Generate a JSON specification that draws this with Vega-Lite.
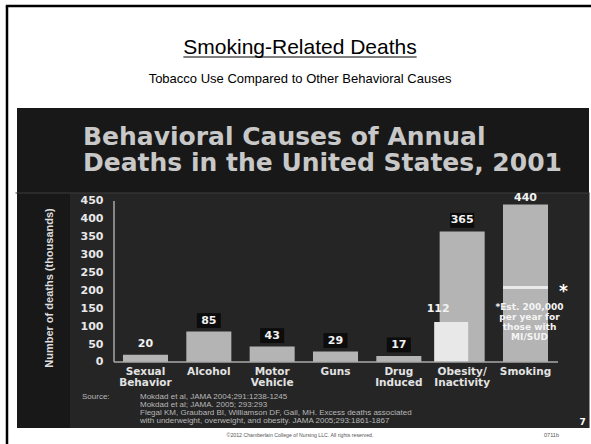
{
  "$schema": "https://vega.github.io/schema/vega-lite/v6.json",
  "width": 572,
  "height": 320,
  "autosize": {"type": "none"},
  "padding": {"left": 17, "top": 108, "right": 2, "bottom": 16},
  "background": "white",
  "view": {"fill": "#181818", "stroke": null},
  "config": {"font": "Liberation Sans"},
  "resolve": {"axis": {"x": "independent", "y": "independent"}},
  "datasets": {
    "deaths": [
      {"cause": "Sexual Behavior", "deaths": 20},
      {"cause": "Alcohol", "deaths": 85},
      {"cause": "Motor Vehicle", "deaths": 43},
      {"cause": "Guns", "deaths": 29},
      {"cause": "Drug Induced", "deaths": 17},
      {"cause": "Obesity/ Inactivity", "deaths": 365},
      {"cause": "Smoking", "deaths": 440}
    ],
    "obesityAlt": [{"cause": "Obesity/ Inactivity", "deaths": 112}],
    "smokingMI": [{"cause": "Smoking", "deaths": 208}],
    "note": [{"n": 1}]
  },
  "layer": [
    {
      "data": {"name": "note"},
      "mark": {"type": "rect", "color": "#252525", "xOffset": -75.5, "x2Offset": 64, "clip": false},
      "encoding": {
        "x": {"datum": "Sexual Behavior", "type": "nominal", "axis": null},
        "x2": {"datum": "Smoking"},
        "y": {"datum": -184.5, "type": "quantitative", "axis": null},
        "y2": {"datum": 472.3}
      }
    },
    {
      "data": {"name": "note"},
      "mark": {"type": "rule", "color": "#3c3c3c", "strokeWidth": 1, "xOffset": -130, "x2Offset": 64, "clip": false},
      "encoding": {
        "x": {"datum": "Sexual Behavior", "type": "nominal", "axis": null},
        "x2": {"datum": "Smoking"},
        "y": {"datum": 472.3, "type": "quantitative", "axis": null}
      }
    },
    {
      "data": {"name": "deaths"},
      "mark": {"type": "bar", "color": "#b4b4b4"},
      "encoding": {
        "x": {
          "field": "cause",
          "type": "nominal",
          "sort": null,
          "scale": {
            "domain": ["Sexual Behavior", "Alcohol", "Motor Vehicle", "Guns", "Drug Induced", "Obesity/ Inactivity", "Smoking"],
            "range": [96.8, 540.2],
            "paddingInner": 0.289,
            "paddingOuter": 0.145,
            "align": 0.5
          },
          "axis": {
            "orient": "bottom",
            "offset": -64,
            "zindex": 2,
            "domain": false,
            "ticks": false,
            "grid": false,
            "labelAngle": 0,
            "labelPadding": 2,
            "labelExpr": "split(datum.label, ' ')",
            "labelFont": "DejaVu Sans",
            "labelFontWeight": "bold",
            "labelFontSize": 10.5,
            "labelLineHeight": 11,
            "labelColor": "#e2e2e2",
            "title": null
          }
        },
        "y": {
          "field": "deaths",
          "type": "quantitative",
          "scale": {"domain": [-184.5, 709.9], "nice": false, "zero": false},
          "axis": {
            "orient": "left",
            "values": [0, 50, 100, 150, 200, 250, 300, 350, 400, 450],
            "offset": -88,
            "zindex": 2,
            "domain": false,
            "ticks": false,
            "grid": false,
            "labelPadding": 2,
            "labelFont": "DejaVu Sans",
            "labelFontWeight": "bold",
            "labelFontSize": 11,
            "labelColor": "#e8e8e8",
            "title": "Number of deaths (thousands)",
            "titleFont": "Liberation Sans",
            "titleFontWeight": "bold",
            "titleFontSize": 11,
            "titleColor": "#dddddd",
            "titleX": -56,
            "titleY": 179.5,
            "titleAlign": "center",
            "titleBaseline": "middle",
            "titleAngle": -90
          }
        },
        "y2": {"datum": 0}
      }
    },
    {
      "data": {"name": "obesityAlt"},
      "mark": {"type": "bar", "color": "#e8e8e8", "width": 34, "xOffset": -11},
      "encoding": {
        "x": {"field": "cause", "type": "nominal", "axis": null},
        "y": {"field": "deaths", "type": "quantitative", "axis": null},
        "y2": {"datum": 0}
      }
    },
    {
      "data": {"name": "smokingMI"},
      "mark": {"type": "tick", "color": "#ffffff", "size": 45, "thickness": 3},
      "encoding": {
        "x": {"field": "cause", "type": "nominal", "axis": null},
        "y": {"field": "deaths", "type": "quantitative", "axis": null}
      }
    },
    {
      "data": {"name": "note"},
      "mark": {"type": "rule", "color": "#a8a8a8", "strokeWidth": 1.5, "xOffset": -31.5},
      "encoding": {
        "x": {"datum": "Sexual Behavior", "type": "nominal", "axis": null},
        "y": {"datum": 0, "type": "quantitative", "axis": null},
        "y2": {"datum": 450}
      }
    },
    {
      "data": {"name": "note"},
      "mark": {"type": "rule", "color": "#a8a8a8", "strokeWidth": 1.5, "xOffset": -31.5, "x2Offset": 32.5},
      "encoding": {
        "x": {"datum": "Sexual Behavior", "type": "nominal", "axis": null},
        "x2": {"datum": "Smoking"},
        "y": {"datum": 0, "type": "quantitative", "axis": null}
      }
    },
    {
      "data": {"name": "deaths"},
      "transform": [{"filter": "datum.cause != 'Sexual Behavior' && datum.cause != 'Smoking'"}],
      "mark": {"type": "point", "shape": "M-1,-0.62H1V0.62H-1Z", "filled": true, "color": "#0c0c0c", "opacity": 1, "size": 576, "yOffset": -11},
      "encoding": {
        "x": {"field": "cause", "type": "nominal", "axis": null},
        "y": {"field": "deaths", "type": "quantitative", "axis": null}
      }
    },
    {
      "data": {"name": "deaths"},
      "transform": [{"filter": "datum.cause != 'Smoking'"}],
      "mark": {"type": "text", "dy": -11, "baseline": "middle", "font": "DejaVu Sans", "fontWeight": "bold", "fontSize": 11, "color": "#f2f2f2"},
      "encoding": {
        "x": {"field": "cause", "type": "nominal", "axis": null},
        "y": {"field": "deaths", "type": "quantitative", "axis": null},
        "text": {"field": "deaths", "type": "quantitative"}
      }
    },
    {
      "data": {"name": "deaths"},
      "transform": [{"filter": "datum.cause == 'Smoking'"}],
      "mark": {"type": "text", "dy": -7, "baseline": "middle", "font": "DejaVu Sans", "fontWeight": "bold", "fontSize": 11, "color": "#f2f2f2", "clip": false},
      "encoding": {
        "x": {"field": "cause", "type": "nominal", "axis": null},
        "y": {"field": "deaths", "type": "quantitative", "axis": null},
        "text": {"field": "deaths", "type": "quantitative"}
      }
    },
    {
      "data": {"name": "obesityAlt"},
      "mark": {"type": "text", "dy": -13, "dx": -24, "baseline": "middle", "font": "DejaVu Sans", "fontWeight": "bold", "fontSize": 11, "color": "#f2f2f2"},
      "encoding": {
        "x": {"field": "cause", "type": "nominal", "axis": null},
        "y": {"field": "deaths", "type": "quantitative", "axis": null},
        "text": {"field": "deaths", "type": "quantitative"}
      }
    },
    {
      "data": {"name": "note"},
      "mark": {"type": "text", "text": "*", "dx": 38, "dy": 4, "baseline": "middle", "font": "DejaVu Sans", "fontWeight": "bold", "fontSize": 17, "color": "#ffffff"},
      "encoding": {
        "x": {"datum": "Smoking", "type": "nominal", "axis": null},
        "y": {"datum": 208, "type": "quantitative", "axis": null}
      }
    },
    {
      "data": {"name": "note"},
      "mark": {"type": "text", "text": ["*Est. 200,000", "per year for", "those with", "MI/SUD"], "dx": 4, "baseline": "top", "lineHeight": 10, "font": "DejaVu Sans", "fontWeight": "bold", "fontSize": 9, "color": "#f4f4f4"},
      "encoding": {
        "x": {"datum": "Smoking", "type": "nominal", "axis": null},
        "y": {"datum": 165, "type": "quantitative", "axis": null}
      }
    },
    {
      "data": {"name": "note"},
      "mark": {"type": "text", "text": ["Behavioral Causes of Annual", "Deaths in the United States, 2001"], "align": "left", "dx": -62.5, "baseline": "alphabetic", "lineHeight": 26, "font": "DejaVu Sans", "fontWeight": "bold", "fontSize": 25, "color": "#c8c8c8", "clip": false},
      "encoding": {
        "x": {"datum": "Sexual Behavior", "type": "nominal", "axis": null},
        "y": {"datum": 606.5, "type": "quantitative", "axis": null}
      }
    },
    {
      "data": {"name": "note"},
      "mark": {"type": "text", "text": "Source:", "align": "left", "dx": -63.5, "baseline": "top", "font": "Liberation Sans", "fontSize": 8, "color": "#b8b8b8"},
      "encoding": {
        "x": {"datum": "Sexual Behavior", "type": "nominal", "axis": null},
        "y": {"datum": -86.7, "type": "quantitative", "axis": null}
      }
    },
    {
      "data": {"name": "note"},
      "mark": {"type": "text", "text": ["Mokdad et al,  JAMA 2004;291:1238-1245", "Mokdad et al;   JAMA. 2005; 293:293", "Flegal KM, Graubard BI, Williamson DF, Gail, MH.  Excess deaths associated", "with underweight, overweight, and obesity.  JAMA 2005;293:1861-1867"], "align": "left", "dx": -5.5, "baseline": "top", "lineHeight": 8, "font": "Liberation Sans", "fontSize": 8, "color": "#b8b8b8"},
      "encoding": {
        "x": {"datum": "Sexual Behavior", "type": "nominal", "axis": null},
        "y": {"datum": -86.7, "type": "quantitative", "axis": null}
      }
    },
    {
      "data": {"name": "note"},
      "mark": {"type": "text", "text": "7", "dx": 57, "baseline": "middle", "font": "DejaVu Sans", "fontWeight": "bold", "fontSize": 9, "color": "#ffffff"},
      "encoding": {
        "x": {"datum": "Smoking", "type": "nominal", "axis": null},
        "y": {"datum": -167.7, "type": "quantitative", "axis": null}
      }
    },
    {
      "data": {"name": "note"},
      "mark": {"type": "text", "text": "0711b", "dx": 26, "baseline": "middle", "font": "Liberation Sans", "fontSize": 5.5, "color": "#555555", "clip": false},
      "encoding": {
        "x": {"datum": "Smoking", "type": "nominal", "axis": null},
        "y": {"datum": -204, "type": "quantitative", "axis": null}
      }
    },
    {
      "data": {"name": "note"},
      "mark": {"type": "text", "text": "©2012 Chamberlain College of Nursing LLC. All rights reserved.", "dx": -35.5, "baseline": "middle", "font": "Liberation Sans", "fontSize": 5.2, "color": "#555555", "clip": false},
      "encoding": {
        "x": {"datum": "Guns", "type": "nominal", "axis": null},
        "y": {"datum": -204, "type": "quantitative", "axis": null}
      }
    },
    {
      "data": {"name": "note"},
      "mark": {"type": "text", "text": "Smoking-Related Deaths", "dx": -35.5, "baseline": "alphabetic", "font": "Liberation Sans", "fontSize": 21, "color": "#000000", "clip": false},
      "encoding": {
        "x": {"datum": "Guns", "type": "nominal", "axis": null},
        "y": {"datum": 860.9, "type": "quantitative", "axis": null}
      }
    },
    {
      "data": {"name": "note"},
      "mark": {"type": "text", "text": "Tobacco Use Compared to Other Behavioral Causes", "dx": -35.5, "baseline": "alphabetic", "font": "Liberation Sans", "fontSize": 13, "color": "#000000", "clip": false},
      "encoding": {
        "x": {"datum": "Guns", "type": "nominal", "axis": null},
        "y": {"datum": 779.8, "type": "quantitative", "axis": null}
      }
    },
    {
      "data": {"name": "note"},
      "mark": {"type": "rule", "color": "#000000", "strokeWidth": 1.2, "xOffset": -25.5, "x2Offset": 17.8, "clip": false},
      "encoding": {
        "x": {"datum": "Alcohol", "type": "nominal", "axis": null},
        "x2": {"datum": "Drug Induced"},
        "y": {"datum": 852.5, "type": "quantitative", "axis": null}
      }
    },
    {
      "data": {"name": "note"},
      "mark": {"type": "rule", "color": "#000000", "strokeWidth": 2.5, "xOffset": -138.5, "clip": false},
      "encoding": {
        "x": {"datum": "Sexual Behavior", "type": "nominal", "axis": null},
        "y": {"datum": 995, "type": "quantitative", "axis": null},
        "y2": {"datum": -232}
      }
    },
    {
      "data": {"name": "note"},
      "mark": {"type": "rule", "color": "#000000", "strokeWidth": 2.5, "xOffset": -139.7, "x2Offset": 70, "clip": false},
      "encoding": {
        "x": {"datum": "Sexual Behavior", "type": "nominal", "axis": null},
        "x2": {"datum": "Smoking"},
        "y": {"datum": 995, "type": "quantitative", "axis": null}
      }
    }
  ]
}
